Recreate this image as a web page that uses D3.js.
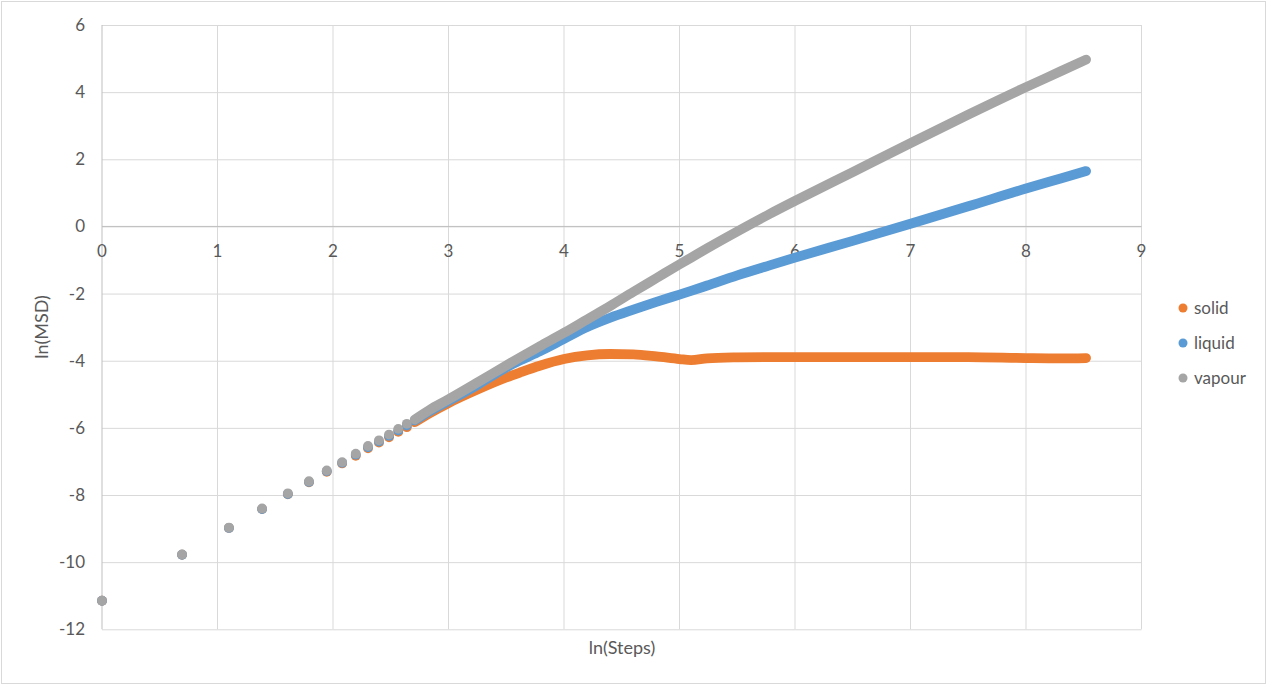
<!DOCTYPE html>
<html>
<head>
<meta charset="utf-8">
<script src="https://cdn.jsdelivr.net/npm/d3@7"></script>
<style>
  body { margin: 0; background: #fff; }
  svg { display: block; font-family: Lato, "Open Sans", sans-serif; }
</style>
</head>
<body>
<svg id="chart" width="1268" height="685"></svg>
<script>
// ---------- data ----------
// first steps, where single markers can still be seen: ln(steps)
var earlyX = [0, 0.693, 1.099, 1.386, 1.609, 1.792, 1.946, 2.079, 2.197, 2.303, 2.398, 2.485, 2.565, 2.639];
var earlySolid  = [-11.15, -9.78, -8.98, -8.42, -7.98, -7.62, -7.31, -7.06, -6.83, -6.61, -6.44, -6.28, -6.12, -5.98];
var earlyLiquid = [-11.15, -9.78, -8.98, -8.42, -7.97, -7.61, -7.29, -7.04, -6.80, -6.58, -6.41, -6.24, -6.08, -5.93];
var earlyVapour = [-11.15, -9.77, -8.97, -8.40, -7.95, -7.59, -7.27, -7.02, -6.77, -6.54, -6.37, -6.20, -6.03, -5.88];

// later steps, where markers merge into a band
var laterX = [2.708, 2.833, 3.0, 3.25, 3.5, 3.62, 3.79, 4.0, 4.2, 4.4, 4.6, 4.8, 5.0, 5.1, 5.24, 5.5, 5.78, 6.0, 6.5, 7.0, 7.5, 8.0, 8.3, 8.52];
var laterSolid  = [-5.83, -5.57, -5.26, -4.86, -4.50, -4.35, -4.15, -3.95, -3.84, -3.80, -3.81, -3.87, -3.95, -3.98, -3.93, -3.90, -3.89, -3.89, -3.89, -3.89, -3.89, -3.92, -3.93, -3.92];
var laterLiquid = [-5.78, -5.51, -5.20, -4.72, -4.20, -3.99, -3.72, -3.35, -3.00, -2.72, -2.48, -2.25, -2.03, -1.92, -1.76, -1.46, -1.16, -0.93, -0.43, 0.08, 0.60, 1.13, 1.43, 1.65];
var laterVapour = [-5.75, -5.47, -5.15, -4.65, -4.14, -3.90, -3.57, -3.17, -2.77, -2.37, -1.95, -1.54, -1.13, -0.93, -0.65, -0.15, 0.37, 0.76, 1.62, 2.48, 3.33, 4.15, 4.62, 4.97];

var seriesNames = ["solid", "liquid", "vapour"];
var seriesColors = ["#ED7D31", "#5B9BD5", "#A5A5A5"];
var xTicks = [0, 1, 2, 3, 4, 5, 6, 7, 8, 9];
var yTicks = [-12, -10, -8, -6, -4, -2, 0, 2, 4, 6];

// ---------- layout ----------
var svg = d3.select("#chart");
var textColor = "#595959";

var x = d3.scaleLinear().domain([0, 9]).range([102, 1141.5]);
var y = d3.scaleLinear().domain([-12, 6]).range([629.3, 25]);

// chart frame
svg.append("rect")
    .attr("x", 1.5).attr("y", 1.5)
    .attr("width", 1264).attr("height", 682)
    .attr("fill", "#fff")
    .attr("stroke", "#D9D9D9");

// horizontal gridlines + y labels
svg.append("g")
    .attr("transform", "translate(" + x(0) + ",0)")
    .call(d3.axisLeft(y).tickValues(yTicks).tickFormat(String)
      .tickSize(-(x(9) - x(0))).tickPadding(17))
    .call(function(g) {
      g.select(".domain").remove();
      g.selectAll(".tick line").attr("stroke", "#D9D9D9");
      g.selectAll(".tick text")
        .attr("fill", textColor)
        .style("font-size", "17px")
        .style("font-family", "Lato, 'Open Sans', sans-serif");
    });

// vertical gridlines
svg.append("g")
    .selectAll("line")
    .data(xTicks.filter(function(d) { return d > 0; }))
    .enter().append("line")
    .attr("x1", function(d) { return x(d); })
    .attr("x2", function(d) { return x(d); })
    .attr("y1", y(6)).attr("y2", y(-12))
    .attr("stroke", "#D9D9D9");

// axis lines (x axis crosses at y = 0)
svg.append("line")
    .attr("x1", x(0)).attr("x2", x(0))
    .attr("y1", y(6)).attr("y2", y(-12))
    .attr("stroke", "#BFBFBF");
svg.append("line")
    .attr("x1", x(0)).attr("x2", x(9))
    .attr("y1", y(0)).attr("y2", y(0))
    .attr("stroke", "#BFBFBF");

// x labels under the y = 0 line
svg.append("g")
    .selectAll("text")
    .data(xTicks)
    .enter().append("text")
    .attr("x", function(d) { return x(d); })
    .attr("y", y(0) + 25)
    .attr("dy", "0.35em")
    .attr("text-anchor", "middle")
    .attr("fill", textColor)
    .style("font-size", "17px")
    .text(function(d) { return d; });

// axis titles
svg.append("text")
    .attr("x", 622).attr("y", 648)
    .attr("dy", "0.35em")
    .attr("text-anchor", "middle")
    .attr("fill", textColor)
    .style("font-size", "18px")
    .text("ln(Steps)");

svg.append("text")
    .attr("transform", "translate(42,327) rotate(-90)")
    .attr("dy", "0.35em")
    .attr("text-anchor", "middle")
    .attr("fill", textColor)
    .style("font-size", "18px")
    .text("ln(MSD)");

// ---------- series ----------
var early = [earlySolid, earlyLiquid, earlyVapour];
var later = [laterSolid, laterLiquid, laterVapour];
var markerR = 4.9;

var line = d3.line()
    .x(function(d) { return x(d[0]); })
    .y(function(d) { return y(d[1]); })
    .curve(d3.curveMonotoneX);

seriesNames.forEach(function(name, i) {
  var g = svg.append("g").attr("class", "series-" + name);
  var bandPts = laterX.map(function(v, k) { return [v, later[i][k]]; });
  // dense markers drawn as one thick band
  g.append("path")
      .datum(bandPts)
      .attr("d", line)
      .attr("fill", "none")
      .attr("stroke", seriesColors[i])
      .attr("stroke-width", markerR * 2)
      .attr("stroke-linecap", "round")
      .attr("stroke-linejoin", "round");
  g.selectAll("circle")
      .data(earlyX.map(function(v, k) { return [v, early[i][k]]; }))
      .enter().append("circle")
      .attr("cx", function(d) { return x(d[0]); })
      .attr("cy", function(d) { return y(d[1]); })
      .attr("r", markerR)
      .attr("fill", seriesColors[i]);
});

// ---------- legend ----------
var legend = svg.append("g")
    .selectAll("g")
    .data(seriesNames)
    .enter().append("g")
    .attr("transform", function(d, i) { return "translate(1183," + (308 + i * 35) + ")"; });
legend.append("circle")
    .attr("r", 4.5)
    .attr("fill", function(d, i) { return seriesColors[i]; });
legend.append("text")
    .attr("x", 11)
    .attr("dy", "0.35em")
    .attr("fill", textColor)
    .style("font-size", "17px")
    .text(function(d) { return d; });
</script>
</body>
</html>
